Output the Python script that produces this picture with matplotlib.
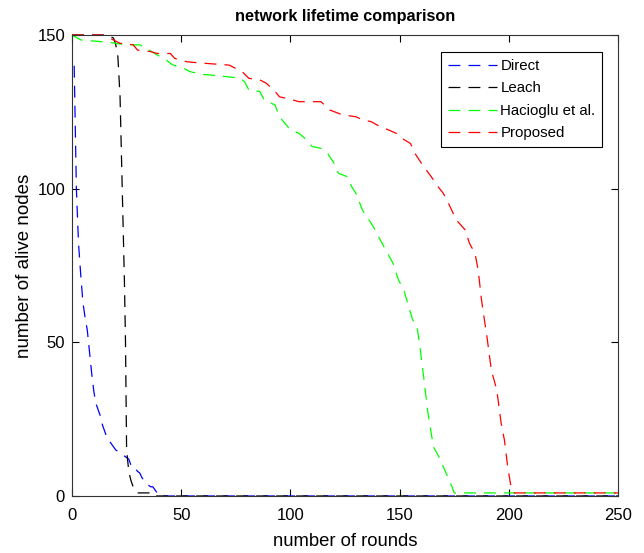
import matplotlib
matplotlib.use("Agg")
import matplotlib.pyplot as plt

plt.rcParams['font.family'] = ['Liberation Sans', 'DejaVu Sans']

# Direct
direct_x = [1, 2, 3, 4, 5, 6, 7, 8, 9, 10, 11, 12, 13, 14, 15, 16, 17, 18, 19, 20,
            21, 22, 24, 26, 27, 28, 29, 30, 31, 32, 33, 34, 35, 36, 37, 38, 39, 40, 41, 250]
direct_y = [140, 100, 82, 72, 63, 58, 54, 47, 40, 34, 30, 28, 26, 23, 21, 19, 18, 17, 16, 15,
            14.5, 14, 13, 12, 10, 10, 9, 8, 7.5, 6, 5, 4, 3.5, 3, 3, 2, 1, 1, 0, 0]

# Leach
leach_x = [0, 16, 19, 20, 21, 22, 23, 24, 24.5, 25, 26, 27, 28, 29, 30, 36, 37, 250]
leach_y = [150, 150, 149, 147, 143, 130, 100, 70, 50, 15, 8, 5, 3, 2, 1, 1, 0, 0]

# Hacioglu et al.
hac_x = [0, 4, 14, 19, 25, 31, 36.5, 39, 43, 46, 51, 54, 59, 63, 77, 79, 81, 86, 88, 93,
         95, 100, 104, 107.5, 110, 114, 117, 120, 122, 126, 128, 130, 133, 135, 138, 142,
         147, 149.5, 152, 153.5, 156, 158, 159.5, 161, 163, 165.5, 168, 170, 172, 174,
         175, 250]
hac_y = [150, 148.4, 147.8, 147.4, 146.8, 146.8, 144.6, 143.5, 141.9, 140.3, 139.2, 138.1,
         137.2, 137, 136, 134.8, 132.1, 131.6, 128.9, 127.2, 123.4, 119.1, 118, 115.8,
         113.7, 113.1, 111.5, 108.3, 105, 103.9, 100.7, 98.5, 93, 90.9, 87.6, 82.2, 75.7,
         70.3, 67, 63.2, 57.3, 55.1, 47.5, 38.8, 26.9, 16, 12.8, 9.5, 6.3, 3, 1, 1]

# Proposed
prop_x = [0, 14, 19, 22, 28, 30, 36, 39, 45, 47, 52.5, 57, 72, 78, 81, 86, 89, 93, 95,
          101, 104, 114, 118, 124, 130, 133, 137, 141, 145, 148.5, 151, 155, 157, 161,
          164.5, 167, 170, 172, 176, 180, 182, 184.5, 186, 187.5, 190, 192, 194.5, 196.5,
          198, 199.5, 201, 202.5, 250]
prop_y = [150, 150, 148.4, 147.3, 146.8, 145.1, 144.6, 144, 144, 142.4, 141.3, 141, 140.2,
          138, 135.9, 135.4, 134.3, 131.6, 129.9, 128.9, 128.3, 128.3, 125.6, 124, 123.4,
          122.4, 121.8, 120.2, 119.1, 118, 116.4, 114.7, 111.5, 107.2, 103.9, 101.2, 98.5,
          95.8, 89.8, 86.6, 82.2, 79, 73.5, 63.8, 51.8, 41, 34.5, 23.7, 18.2, 9.5, 3, 1, 1]

fig = plt.figure(figsize=(6.44, 5.53), dpi=100)
ax = fig.add_axes([0.1118, 0.1031, 0.8478, 0.8336])

dash = (0, (9.5, 6.5))
ax.plot(direct_x, direct_y, color='#0000ff', lw=0.9, linestyle=dash, label='Direct', clip_on=False)
ax.plot(leach_x, leach_y, color='black', lw=0.9, linestyle=dash, label='Leach', clip_on=False)
ax.plot(hac_x, hac_y, color='#00ff00', lw=0.9, linestyle=dash, label='Hacioglu et al.', clip_on=False)
ax.plot(prop_x, prop_y, color='#ff0000', lw=0.9, linestyle=dash, label='Proposed', clip_on=False)

ax.set_xlim(0, 250)
ax.set_ylim(0, 150)
ax.set_xticks([0, 50, 100, 150, 200, 250])
ax.set_yticks([0, 50, 100, 150])
ax.tick_params(direction='in', top=True, right=True, labelsize=12, length=5, width=0.8)
ax.tick_params(axis='x', pad=9)
ax.tick_params(axis='y', pad=5)
for s in ax.spines.values():
    s.set_color('#333333')
    s.set_linewidth(0.8)

ax.set_xlabel('number of rounds', fontsize=13.3, labelpad=7)
ax.set_ylabel('number of alive nodes', fontsize=13.5, labelpad=3)
ax.set_title('network lifetime comparison', fontsize=11.7, fontweight='bold', pad=10)

leg = ax.legend(loc='upper right', bbox_to_anchor=(0.971, 0.963), fontsize=10.8,
                fancybox=False, framealpha=1, edgecolor='black', borderpad=0.45,
                labelspacing=0.57, handlelength=3.3, handletextpad=0.2, borderaxespad=0)
leg.get_frame().set_linewidth(0.8)

fig.savefig('out.png', dpi=100)
